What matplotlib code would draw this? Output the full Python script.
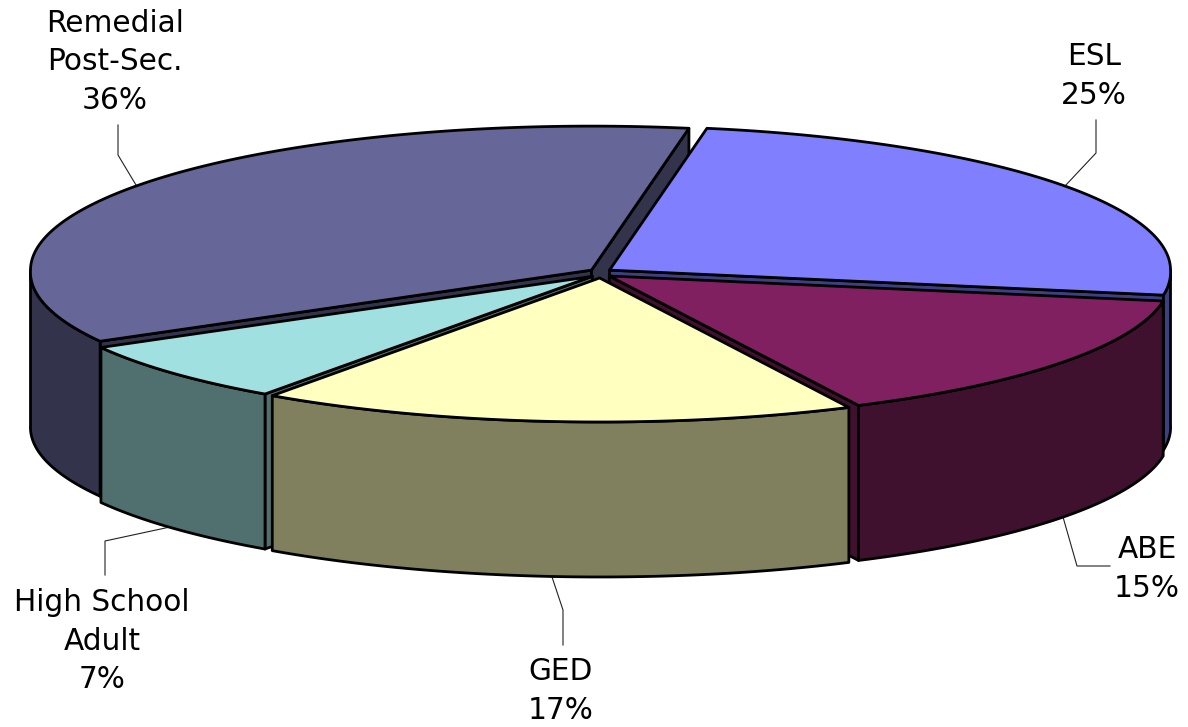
import numpy as np
import matplotlib
matplotlib.use("Agg")
import matplotlib.pyplot as plt

# slices, clockwise from the back of the pie
labels = ["ESL", "ABE", "GED", "High School\nAdult", "Remedial\nPost-Sec."]
shares = [25, 15, 17, 7, 36]
top_colors = ["#8080FF", "#802060", "#FFFFC0", "#A0E0E0", "#666699"]
side_colors = ["#3D4080", "#40102F", "#80805F", "#50706F", "#33334C"]

# front slices have to be painted last
draw_order = [4, 0, 1, 3, 2]

# pie geometry, in pixels
start_angle = 80
cx, cy = 600.5, 273
rx, ry = 561, 144
depth = 155
explode_x, explode_y = 11, 5
perspective = 0.015  # near side of the pie is a little wider
edge = 2.0

# label centre and leader line for each slice
label_pos = [(1094, 76), (1147, 569), (561, 691), (102, 641), (115, 62)]
leaders = [
    [(1065, 186), (1096, 153), (1096, 120)],
    [(1063, 517), (1077, 566), (1110, 566)],
    [(552, 577), (563, 610), (563, 645)],
    [(170, 527), (105, 541), (105, 575)],
    [(136, 185), (118, 155), (118, 125)],
]

fig = plt.figure(figsize=(11.88, 7.27), dpi=100)
ax = fig.add_axes([0, 0, 1, 1])
ax.set_xlim(0, 1188)
ax.set_ylim(727, 0)
ax.axis("off")

# angle limits of every slice from the shares
stops = start_angle - np.cumsum([0] + shares) * 3.6


def rim(x0, y0, t):
    a = np.radians(t)
    widen = 1 - perspective * np.minimum(np.sin(a), 0)
    return x0 + rx * np.cos(a) * widen, y0 - ry * np.sin(a)


def fill(xs, ys, color, z):
    ax.fill(xs, ys, facecolor=color, edgecolor="black", linewidth=edge,
            joinstyle="round", zorder=z)


z = 1
for i in draw_order:
    t0, t1 = stops[i], stops[i + 1]
    mid = np.radians((t0 + t1) / 2)
    x0 = cx + explode_x * np.cos(mid)
    y0 = cy - explode_y * np.sin(mid)

    # cut faces that look towards the viewer
    for t, visible in ((t0, np.cos(np.radians(t0)) < 0), (t1, np.cos(np.radians(t1)) > 0)):
        if visible:
            xr, yr = rim(x0, y0, t)
            fill([x0, xr, xr, x0], [y0, yr, yr + depth, y0 + depth], side_colors[i], z)
            z += 1

    # outer wall, only the part on the near half
    lo = max(t1, -180)
    hi = min(t0, 0)
    if hi > lo:
        tt = np.linspace(hi, lo, 80)
        xs, ys = rim(x0, y0, tt)
        fill(np.r_[xs, xs[::-1]], np.r_[ys, ys[::-1] + depth], side_colors[i], z)
        z += 1

    # top
    tt = np.linspace(t0, t1, 200)
    xs, ys = rim(x0, y0, tt)
    fill(np.r_[x0, xs], np.r_[y0, ys], top_colors[i], z)
    z += 1

for i, name in enumerate(labels):
    xs, ys = zip(*leaders[i])
    ax.plot(xs, ys, color="#222222", linewidth=0.8, zorder=0)
    ax.text(label_pos[i][0], label_pos[i][1], f"{name}\n{shares[i]}%",
            ha="center", va="center", fontsize=21.3, color="black",
            family="DejaVu Sans", linespacing=1.42, zorder=z)

fig.savefig("out.png", dpi=100)
